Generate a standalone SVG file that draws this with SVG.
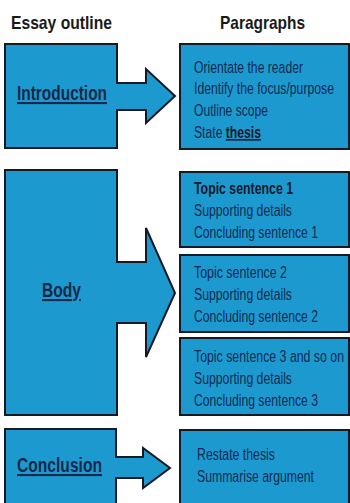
<svg xmlns="http://www.w3.org/2000/svg" width="350" height="503" viewBox="0 0 350 503">
<style>
.shape{fill:#1c9ad0;stroke:#141a24;stroke-width:2;stroke-linejoin:miter}
.head{font-family:"Liberation Sans",Arial,sans-serif;font-weight:bold;font-size:19px;fill:#1a1a1a}
.lbl{font-family:"Liberation Sans",Arial,sans-serif;font-weight:bold;font-size:21px;fill:#14284a;text-decoration:underline}
.txt{font-family:"Liberation Sans",Arial,sans-serif;font-size:16px;fill:#0f2a50}
.b{font-weight:bold;fill:#111827}
.u{text-decoration:underline}
</style>
<rect width="350" height="503" fill="#ffffff"/>
<g id="headers">
<text class="head" x="11" y="29" textLength="101" lengthAdjust="spacingAndGlyphs">Essay outline</text>
<text class="head" x="220" y="29" textLength="85" lengthAdjust="spacingAndGlyphs">Paragraphs</text>
</g>
<g id="connectors">
</g>
<g id="introduction">
<polygon class="shape" points="5,44 117,44 117,83 146,83 146,69 175,96 146,123 146,110 117,110 117,148 5,148"/>
<text class="lbl" x="17" y="100" textLength="90" lengthAdjust="spacingAndGlyphs">Introduction</text>
</g>
<g id="intro-paragraph">
<rect class="shape" x="180" y="44" width="169" height="105"/>
<text class="txt" x="194" y="73" textLength="109" lengthAdjust="spacingAndGlyphs">Orientate the reader</text>
<text class="txt" x="194" y="94" textLength="140" lengthAdjust="spacingAndGlyphs">Identify the focus/purpose</text>
<text class="txt" x="194" y="116" textLength="74" lengthAdjust="spacingAndGlyphs">Outline scope</text>
<text class="txt" x="194" y="138" textLength="67" lengthAdjust="spacingAndGlyphs">State <tspan class="b u">thesis</tspan></text>
</g>
<g id="body">
<polygon class="shape" points="5,170 117,170 117,262 146,262 146,228 175,293 146,357 146,323 117,323 117,415 5,415"/>
<text class="lbl" x="42" y="297" textLength="39" lengthAdjust="spacingAndGlyphs">Body</text>
</g>
<g id="body-paragraph-1">
<rect class="shape" x="180" y="172" width="169" height="75"/>
<text class="txt b" x="194" y="194" textLength="99" lengthAdjust="spacingAndGlyphs">Topic sentence 1</text>
<text class="txt" x="194" y="216" textLength="98" lengthAdjust="spacingAndGlyphs">Supporting details</text>
<text class="txt" x="194" y="238" textLength="124" lengthAdjust="spacingAndGlyphs">Concluding sentence 1</text>
</g>
<g id="body-paragraph-2">
<rect class="shape" x="180" y="255" width="169" height="77"/>
<text class="txt" x="194" y="278" textLength="93" lengthAdjust="spacingAndGlyphs">Topic sentence 2</text>
<text class="txt" x="194" y="300" textLength="98" lengthAdjust="spacingAndGlyphs">Supporting details</text>
<text class="txt" x="194" y="322" textLength="124" lengthAdjust="spacingAndGlyphs">Concluding sentence 2</text>
</g>
<g id="body-paragraph-3">
<rect class="shape" x="180" y="338" width="169" height="77"/>
<text class="txt" x="194" y="362" textLength="150" lengthAdjust="spacingAndGlyphs">Topic sentence 3 and so on</text>
<text class="txt" x="194" y="384" textLength="98" lengthAdjust="spacingAndGlyphs">Supporting details</text>
<text class="txt" x="194" y="406" textLength="124" lengthAdjust="spacingAndGlyphs">Concluding sentence 3</text>
</g>
<g id="conclusion">
<polygon class="shape" points="5,429 116,429 116,457 143,457 143,448 170,468 143,488 143,478 116,478 116,506 5,506"/>
<text class="lbl" x="17" y="472" textLength="85" lengthAdjust="spacingAndGlyphs">Conclusion</text>
</g>
<g id="conclusion-paragraph">
<rect class="shape" x="180" y="430" width="169" height="76"/>
<text class="txt" x="197" y="460" textLength="78" lengthAdjust="spacingAndGlyphs">Restate thesis</text>
<text class="txt" x="197" y="482" textLength="117" lengthAdjust="spacingAndGlyphs">Summarise argument</text>
</g>
</svg>
